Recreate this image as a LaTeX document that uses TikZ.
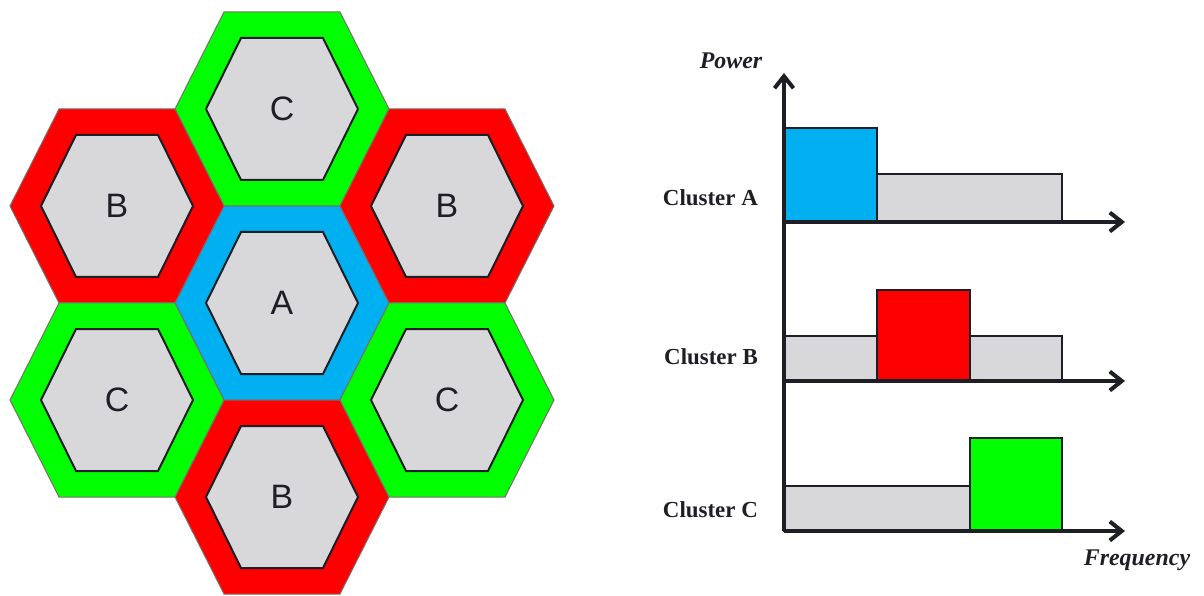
\documentclass[tikz,border=0pt]{standalone}
\usepackage{fontspec}
\setmainfont{Liberation Serif}
\newfontfamily\cellfont{Liberation Sans}
\usetikzlibrary{arrows.meta}

\definecolor{cellgray}{RGB}{216,216,218}
\definecolor{ringred}{RGB}{255,0,0}
\definecolor{ringgreen}{RGB}{0,255,0}
\definecolor{ringblue}{RGB}{0,176,240}
\definecolor{inkdark}{RGB}{30,30,38}
\definecolor{rimgray}{RGB}{120,110,110}

\tikzset{
  outerhex/.style={draw=rimgray, line width=1bp},
  innerhex/.style={draw=inkdark, fill=cellgray, line width=2bp},
  hexlabel/.style={font=\cellfont\fontsize{34}{40}\selectfont, text=inkdark, inner sep=0pt},
  bar/.style={draw=inkdark, line width=2.5bp, line join=miter},
  axisline/.style={draw=inkdark, line width=3.2bp, -{Straight Barb[length=12bp,width=19bp,line width=4bp]}},
  clusterlabel/.style={font=\bfseries\fontsize{23}{28}\selectfont, text=inkdark, anchor=east, inner sep=0pt},
  axislabel/.style={font=\bfseries\itshape\fontsize{24}{28}\selectfont, text=inkdark, inner sep=0pt}
}

% one cell: name, x, y, ring colour, letter
\newcommand\cellhex[5]{%
  \coordinate (#1) at (#2,#3);
  \begin{scope}[shift={(#1)}]
    \filldraw[outerhex, fill=#4] (-107,0) -- (-58,-97) -- (58,-97) -- (107,0) -- (58,97) -- (-58,97) -- cycle;
    \filldraw[innerhex] (-76,0) -- (-41,-71) -- (41,-71) -- (76,0) -- (41,71) -- (-41,71) -- cycle;
  \end{scope}
  \node[hexlabel] (#1-label) at (#1) {#5};
}

\begin{document}
\begin{tikzpicture}[x=1bp, y=-1bp]
\useasboundingbox (0,0) rectangle (1204,596);

% hexagonal cluster layout
\cellhex{cA}{282}{303}{ringblue}{A}
\cellhex{cTop}{282}{109}{ringgreen}{C}
\cellhex{bBot}{282}{497}{ringred}{B}
\cellhex{bLeft}{117}{206}{ringred}{B}
\cellhex{bRight}{447}{206}{ringred}{B}
\cellhex{cLeft}{117}{400}{ringgreen}{C}
\cellhex{cRight}{447}{400}{ringgreen}{C}

% spectrum allocation per cluster
\coordinate (O) at (784,531);
\coordinate (ptip) at (784,73);
\coordinate (aA) at (784,222);
\coordinate (aB) at (784,381);
\coordinate (fA) at (1125,222);
\coordinate (fB) at (1125,381);
\coordinate (fC) at (1125,531);

% cluster A
\filldraw[bar, fill=cellgray] (877,222) rectangle (1062,174);
\filldraw[bar, fill=ringblue] (784,222) rectangle (877,128);
% cluster B
\filldraw[bar, fill=cellgray] (784,381) rectangle (877,336);
\filldraw[bar, fill=cellgray] (970,381) rectangle (1062,336);
\filldraw[bar, fill=ringred] (877,381) rectangle (970,290);
% cluster C
\filldraw[bar, fill=cellgray] (784,531) rectangle (970,486);
\filldraw[bar, fill=ringgreen] (970,531) rectangle (1062,438);

% axes
\draw[axisline] (O) -- (ptip);
\draw[axisline] (aA) -- (fA);
\draw[axisline] (aB) -- (fB);
\draw[axisline] (O) -- (fC);

\node[clusterlabel] (labA) at (758,198) {Cluster A};
\node[clusterlabel] (labB) at (758,357) {Cluster B};
\node[clusterlabel] (labC) at (758,510) {Cluster C};
\node[axislabel] (pw) at (731,61) {Power};
\node[axislabel] (fq) at (1137,560) {Frequency};
\end{tikzpicture}
\end{document}
